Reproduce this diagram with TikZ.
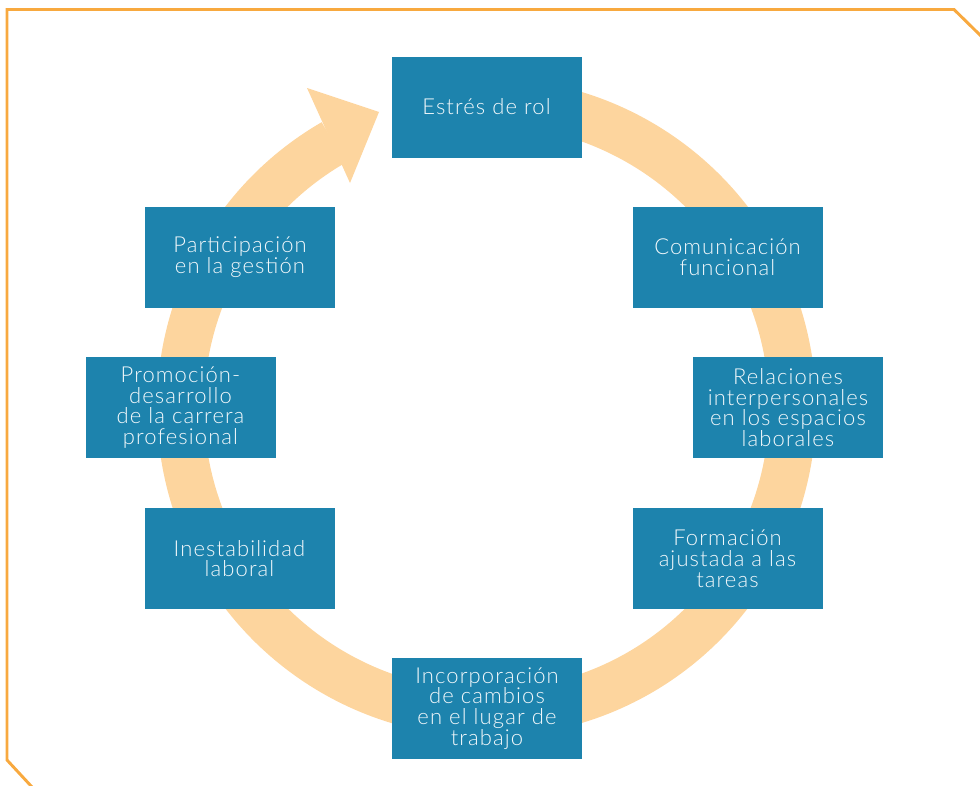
\documentclass[tikz,border=0pt]{standalone}
\usepackage{fontspec}
\setmainfont{Lato Light}[LetterSpace=5]
\definecolor{boxblue}{HTML}{1D83AD}
\definecolor{ringorange}{HTML}{FDD59E}
\definecolor{frameorange}{HTML}{F8A93F}
\definecolor{boxtext}{HTML}{F2F8FB}
\tikzset{
  stagebox/.style={fill=boxblue, text=boxtext, minimum width=142.5pt, minimum height=75.75pt,
    inner sep=0pt, align=center, font=\fontsize{16.5}{15.6}\selectfont},
  ringband/.style={draw=ringorange, line width=35.25pt, line cap=butt},
  framepath/.style={draw=frameorange, line width=2.2pt, line join=miter}
}
\begin{document}
\begin{tikzpicture}[x=0.75pt,y=0.75pt]
\useasboundingbox (0,0) rectangle (980,-785);
% frame
\draw[framepath] (32,-787) -- (7,-760) -- (7,-9.5) -- (954,-9.5) -- (981,-36);
% ring
\coordinate (c) at (486.5,-407.5);
\draw[ringband] (c) ++(100:306) arc[start angle=100, end angle=-240, radius=306];
\fill[ringorange] (379,-112) -- (307,-88) -- (350,-183) -- cycle;
% boxes
\node[stagebox] (estres) at (486.5,-107) {Estrés de rol};
\node[stagebox] (comun) at (727.5,-257.5) {Comunicación\\funcional};
\node[stagebox] (relac) at (788,-407.5) {Relaciones\\interpersonales\\en los espacios\\laborales};
\node[stagebox] (forma) at (727.5,-558.5) {Formación\\ajustada a las\\tareas};
\node[stagebox] (incorp) at (487,-708.5) {Incorporación\\de cambios\\en el lugar de\\trabajo};
\node[stagebox] (inest) at (239.5,-558.5) {Inestabilidad\\laboral};
\node[stagebox] (promo) at (180.5,-407.5) {Promoción-\\desarrollo\\de la carrera\\profesional};
\node[stagebox] (partic) at (240,-257.5) {Participación\\en la gestión};
\end{tikzpicture}
\end{document}
